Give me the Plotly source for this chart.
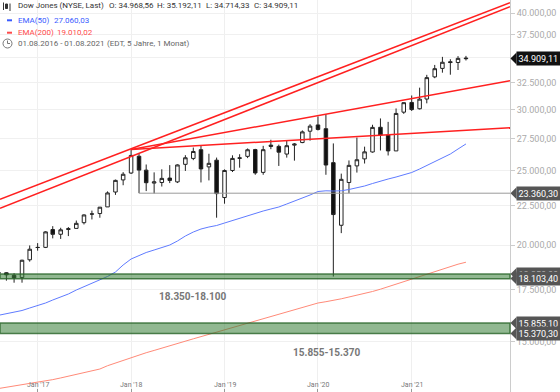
import numpy as np
import pandas as pd
import plotly.graph_objects as go

# ---------------- data ----------------
months = pd.date_range("2016-08-01", "2021-08-01", freq="MS")

opens = [18434, 18419, 18279, 18158, 19149,
         19872, 19872, 20957, 20665, 20962, 21030, 21392, 21961, 21982, 22423, 23442, 24305,
         24809, 26084, 25025, 24076, 24117, 24437, 24161, 25461, 25916, 26598, 25269, 25779,
         23058, 24999, 25958, 26076, 26608, 24857, 26963, 26863, 26255, 26962, 27172, 28109,
         28639, 28320, 25591, 21227, 24120, 25343, 25879, 26419, 28439, 27789, 26502, 29751,
         30628, 30054, 30941, 33054, 33905, 34584, 34507, 34968.56]
highs = [18668, 18450, 18399, 19152, 19987,
         20126, 20851, 21170, 21070, 21112, 21529, 21929, 22179, 22419, 23485, 24328, 24876,
         26617, 26306, 25450, 24858, 25087, 25402, 25461, 26167, 26769, 26951, 26277, 25980,
         25079, 26156, 26241, 26696, 26667, 26907, 27399, 27004, 27307, 27122, 28175, 28702,
         29374, 29568, 27102, 24764, 25759, 27581, 26841, 28655, 29199, 28902, 30083, 30637,
         31272, 32010, 33259, 34257, 35091, 34849, 35171, 35192.11]
lows = [18247, 17992, 17883, 17884, 19043,
        19677, 19831, 20413, 20379, 20553, 21030, 21279, 21600, 21709, 22416, 23242, 23922,
        24741, 23360, 23509, 23344, 23829, 24076, 24078, 24965, 25781, 24122, 24268, 21713,
        22639, 24883, 25209, 25939, 24680, 24681, 26639, 25339, 25978, 25743, 27121, 27325,
        28169, 24681, 18214, 20735, 23361, 24843, 25523, 26365, 26537, 26144, 26502, 29601,
        29856, 29992, 30547, 32925, 33473, 33271, 33741, 34714.33]
closes = [18400, 18308, 18142, 19124, 19763,
          19864, 20812, 20663, 20941, 21009, 21350, 21891, 21948, 22405, 23377, 24272, 24719,
          26149, 25029, 24103, 24163, 24416, 24271, 25415, 25965, 26458, 25116, 25538, 23327,
          24999, 25916, 25929, 26593, 24815, 26600, 26864, 26403, 26917, 27046, 28051, 28538,
          28256, 25409, 21917, 24346, 25383, 25813, 26428, 28430, 27782, 26502, 29639, 30606,
          29983, 30932, 32982, 33875, 34529, 34503, 34935, 34909.11]

ema50 = [16225, 16303, 16361, 16459, 16582, 16697, 16832, 16983, 17136, 17290,
         17498, 17666, 17836, 18028, 18218, 18464, 18854, 19194, 19396, 19570,
         19717, 19863, 20012, 20252, 20557, 20804, 20991, 21117, 21212, 21370,
         21531, 21692, 21854, 22018, 22150, 22283, 22416, 22618, 22822, 22993,
         23234, 23478, 23527, 23513, 23527, 23619, 23724, 23867, 24045, 24226,
         24371, 24517, 24664, 24848, 25110, 25373, 25640, 25909, 26259, 26654, 27060.03]
ema200 = [13039, 13086, 13137, 13180, 13223, 13271, 13326, 13390, 13458, 13527,
          13588, 13657, 13759, 13821, 13958, 14071, 14197, 14312, 14411, 14510,
          14610, 14715, 14821, 14918, 15026, 15125, 15224, 15329, 15435, 15537,
          15639, 15742, 15846, 15950, 16055, 16161, 16268, 16375, 16483, 16602,
          16721, 16832, 16897, 16958, 17044, 17136, 17223, 17311, 17420, 17540,
          17671, 17804, 17932, 18071, 18212, 18354, 18492, 18630, 18770, 18899, 19010.02]

# trend lines (start date, start value, end date, end value)
trend_x0 = ["2016-08-07", "2016-08-07", "2018-01-01", "2018-01-01"]
trend_y0 = [22936, 22330, 26617, 26617]
trend_x1 = ["2022-01-20", "2022-01-20", "2022-01-20", "2022-01-20"]
trend_y1 = [41249, 40759, 32681, 28404]

support_level = 23360.30
support_start = "2018-02-01"

zones_hi = [18350, 15855]
zones_lo = [18100, 15370]

tag_values = [34909.11, 23360.30, 18350.00, 18103.40, 15855.10, 15370.30]
tag_colors = ["#111111", "#555555", "#555555", "#555555", "#555555", "#555555"]

ytick_vals = [15000, 17500, 20000, 22500, 25000, 27500, 30000, 32500, 35000, 37500, 40000]
xtick_vals = ["2017-01-01", "2018-01-01", "2019-01-01", "2020-01-01", "2021-01-01"]
xtick_text = ["Jan '17", "Jan '18", "Jan '19", "Jan '20", "Jan '21"]

X_RANGE = ["2016-08-07", "2022-01-20"]
Y_MIN, Y_MAX = 12905, 41583

PW, PH = 510, 392   # plot area in pixels
FONT = "Roboto"


def de(v, dec=2):
    s = f"{v:,.{dec}f}"
    return s.replace(",", "§").replace(".", ",").replace("§", ".")


def pxx(x):
    return x / PW


def pxy(y):
    return 1 - y / PH


def paper_y_of(v):
    return (np.log10(v) - np.log10(Y_MIN)) / (np.log10(Y_MAX) - np.log10(Y_MIN))


fig = go.Figure()

fig.add_trace(go.Candlestick(
    x=months, open=opens, high=highs, low=lows, close=closes,
    increasing=dict(line=dict(color="#222222", width=1), fillcolor="#ffffff"),
    decreasing=dict(line=dict(color="#222222", width=1), fillcolor="#111111"),
    whiskerwidth=0, showlegend=False, hoverinfo="skip"))

fig.add_trace(go.Scatter(x=months, y=ema50, mode="lines",
                         line=dict(color="#5f7bff", width=1), hoverinfo="skip"))
fig.add_trace(go.Scatter(x=months, y=ema200, mode="lines",
                         line=dict(color="#ff8a78", width=1), hoverinfo="skip"))

fig.add_trace(go.Scatter(x=[support_start, X_RANGE[1]], y=[support_level, support_level],
                         mode="lines", line=dict(color="#9a9a9a", width=1), hoverinfo="skip"))

for a, b, c, d in zip(trend_x0, trend_y0, trend_x1, trend_y1):
    fig.add_trace(go.Scatter(x=[a, c], y=[b, d], mode="lines",
                             line=dict(color="#ff2020", width=1.5), hoverinfo="skip"))

shapes = []
for hi, lo in zip(zones_hi, zones_lo):
    shapes.append(dict(type="rect", xref="paper", x0=0, x1=1, yref="y", y0=lo, y1=hi,
                       fillcolor="rgba(55,125,55,0.55)",
                       line=dict(color="rgba(40,100,40,0.8)", width=1.5), layer="above"))

annotations = []
# zone labels
annotations.append(dict(x="2018-08-30", y=np.log10(17150), xref="x", yref="y",
                        text=f"<b>{de(zones_hi[0],0)}-{de(zones_lo[0],0)}</b>", showarrow=False,
                        font=dict(family=FONT, size=10, color="#777777")))
annotations.append(dict(x="2020-02-03", y=np.log10(14511), xref="x", yref="y",
                        text=f"<b>{de(zones_hi[1],0)}-{de(zones_lo[1],0)}</b>", showarrow=False,
                        font=dict(family=FONT, size=10, color="#777777")))

# x tick labels (drawn inside the plot, just above the bottom tick marks)
for tv, tt in zip(xtick_vals, xtick_text):
    annotations.append(dict(x=tv, xref="x", y=pxy(385), yref="paper",
                            xanchor="center", yanchor="middle", text=tt, showarrow=False,
                            font=dict(family=FONT, size=7, color="#777777")))

# price tags on the right
for v, col in zip(tag_values, tag_colors):
    annotations.append(dict(x=1, xref="paper", xanchor="left", xshift=6,
                            y=np.log10(v), yref="y", yanchor="middle",
                            text=de(v), showarrow=False, bgcolor=col, borderpad=1.5,
                            font=dict(family=FONT, size=9, color="#ffffff")))
    shapes.append(dict(type="path", xref="paper", xsizemode="pixel", xanchor=1,
                       yref="paper", ysizemode="pixel", yanchor=paper_y_of(v),
                       path="M 0.5,0 L 6.5,6 L 6.5,-6 Z", fillcolor=col,
                       line=dict(width=0), layer="above"))

# header text
hdr = [("Dow Jones (NYSE, Last)", 16, 6, "#333333"),
       (f"O: {de(opens[-1])}", 106.7, 6, "#333333"),
       (f"H: {de(highs[-1])}", 155, 6, "#333333"),
       (f"L: {de(lows[-1])}", 203.5, 6, "#333333"),
       (f"C: {de(closes[-1])}", 252, 6, "#333333"),
       ("EMA(50)", 16, 20.3, "#3a5cff"),
       (de(ema50[-1]), 51.5, 20.3, "#3a5cff"),
       ("EMA(200)", 16, 32.7, "#ff4a4a"),
       (de(ema200[-1]), 55, 32.7, "#ff4a4a"),
       ("01.08.2016 - 01.08.2021", 16, 43.5, "#666666"),
       ("(EDT, 5 Jahre, 1 Monat)", 105, 43.5, "#666666")]
for t, x, y, c in hdr:
    annotations.append(dict(x=pxx(x), y=pxy(y), xref="paper", yref="paper",
                            xanchor="left", yanchor="middle", text=t, showarrow=False,
                            font=dict(family=FONT, size=8, color=c)))

# header icons
shapes.append(dict(type="line", xref="paper", yref="paper", x0=pxx(7), x1=pxx(12),
                   y0=pxy(20.3), y1=pxy(20.3), line=dict(color="#3a5cff", width=2)))
shapes.append(dict(type="line", xref="paper", yref="paper", x0=pxx(7), x1=pxx(12),
                   y0=pxy(32.7), y1=pxy(32.7), line=dict(color="#ff4a4a", width=2)))
shapes.append(dict(type="line", xref="paper", yref="paper", x0=pxx(3.5), x1=pxx(3.5),
                   y0=pxy(2.5), y1=pxy(10), line=dict(color="#333", width=1)))
shapes.append(dict(type="rect", xref="paper", yref="paper", x0=pxx(5.5), x1=pxx(7.5),
                   y0=pxy(4), y1=pxy(8.5), fillcolor="#333", line=dict(color="#333", width=1)))
shapes.append(dict(type="line", xref="paper", yref="paper", x0=pxx(10), x1=pxx(10),
                   y0=pxy(3.5), y1=pxy(11), line=dict(color="#333", width=1)))
shapes.append(dict(type="circle", xref="paper", yref="paper", x0=pxx(3), x1=pxx(12),
                   y0=pxy(39), y1=pxy(48), line=dict(color="#777", width=1)))
shapes.append(dict(type="line", xref="paper", yref="paper", x0=pxx(7.5), x1=pxx(7.5),
                   y0=pxy(43.5), y1=pxy(40.5), line=dict(color="#777", width=1)))
shapes.append(dict(type="line", xref="paper", yref="paper", x0=pxx(7.5), x1=pxx(10),
                   y0=pxy(43.5), y1=pxy(43.5), line=dict(color="#777", width=1)))

fig.update_layout(
    width=560, height=392,
    margin=dict(l=0, r=50, t=0, b=0, pad=0),
    paper_bgcolor="white", plot_bgcolor="white",
    showlegend=False, hovermode=False, dragmode=False,
    shapes=shapes, annotations=annotations,
    font=dict(family=FONT),
    xaxis=dict(type="date", range=X_RANGE, rangeslider=dict(visible=False),
               tickvals=xtick_vals, showticklabels=False,
               ticks="inside", ticklen=3, tickcolor="#999",
               showgrid=True, gridcolor="#efefef", zeroline=False, showline=False,
               automargin=False, fixedrange=True),
    yaxis=dict(type="log", side="right",
               range=[np.log10(Y_MIN), np.log10(Y_MAX)],
               tickvals=ytick_vals, ticktext=[de(v) for v in ytick_vals],
               ticks="outside", ticklen=4, tickcolor="#cccccc",
               tickfont=dict(family=FONT, size=9, color="#aaaaaa"),
               showgrid=True, gridcolor="#f0f0f0", zeroline=False,
               showline=True, linecolor="#cccccc", linewidth=1, automargin=False,
               fixedrange=True),
)

fig.write_html("out.html", config={"displayModeBar": False, "staticPlot": True},
               post_script="document.body.style.margin='0';document.body.style.overflow='hidden';")
